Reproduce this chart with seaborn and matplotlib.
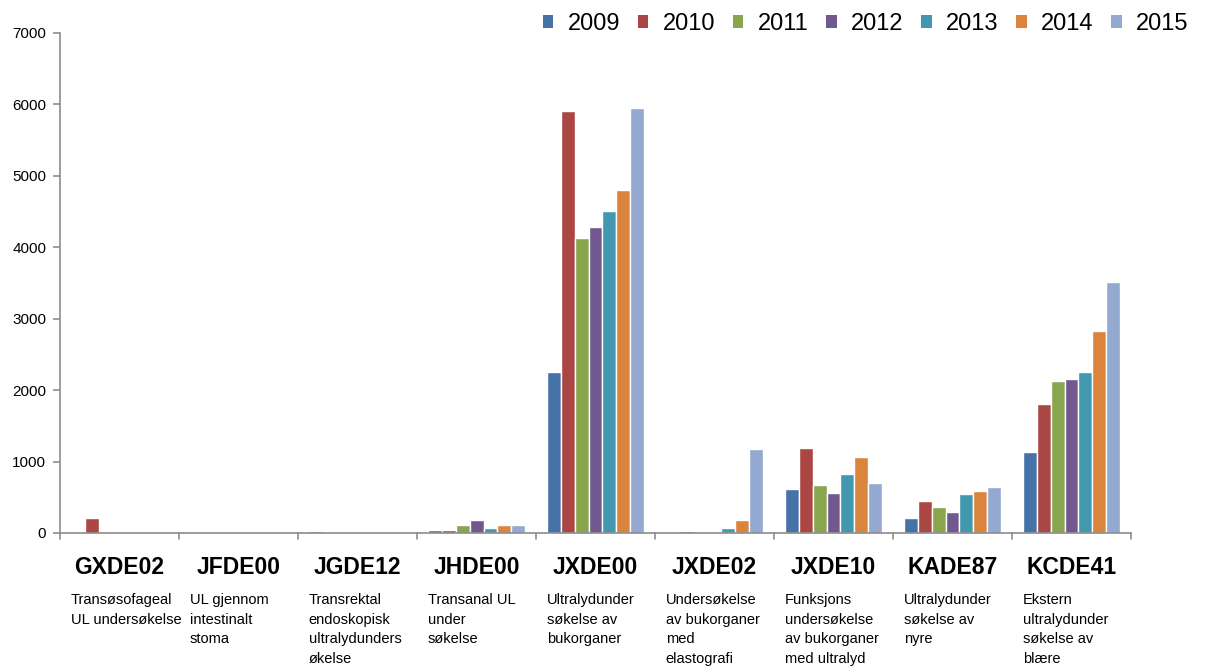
import numpy as np
import pandas as pd
import seaborn as sns
import matplotlib
matplotlib.use("Agg")
from matplotlib import pyplot as plt
from matplotlib import transforms
from matplotlib.patches import Patch

# Procedure codes and descriptions
codes = ["GXDE02", "JFDE00", "JGDE12", "JHDE00", "JXDE00", "JXDE02", "JXDE10", "KADE87", "KCDE41"]
descriptions = [
    "Transøsofageal\nUL undersøkelse",
    "UL gjennom\nintestinalt\nstoma",
    "Transrektal\nendoskopisk\nultralydunders\nøkelse",
    "Transanal UL\nunder\nsøkelse",
    "Ultralydunder\nsøkelse av\nbukorganer",
    "Undersøkelse\nav bukorganer\nmed\nelastografi",
    "Funksjons\nundersøkelse\nav bukorganer\nmed ultralyd",
    "Ultralydunder\nsøkelse av\nnyre",
    "Ekstern\nultralydunder\nsøkelse av\nblære",
]
years = ["2009", "2010", "2011", "2012", "2013", "2014", "2015"]

# counts per year, one list per code
v_gxde02 = [0, 215, 0, 0, 0, 0, 0]
v_jfde00 = [0, 0, 0, 0, 0, 0, 0]
v_jgde12 = [25, 0, 0, 0, 0, 0, 0]
v_jhde00 = [40, 40, 116, 182, 65, 116, 116]
v_jxde00 = [2255, 5910, 4130, 4285, 4510, 4800, 5950]
v_jxde02 = [0, 25, 0, 0, 65, 180, 1170]
v_jxde10 = [612, 1190, 672, 560, 822, 1060, 696]
v_kade87 = [210, 450, 370, 300, 550, 590, 650]
v_kcde41 = [1130, 1810, 2130, 2150, 2260, 2830, 3520]

values = [v_gxde02, v_jfde00, v_jgde12, v_jhde00, v_jxde00, v_jxde02, v_jxde10, v_kade87, v_kcde41]

colors = ["#4572A7", "#AA4643", "#89A54E", "#71588F", "#4198AF", "#DB843D", "#93A9CF"]

rows = []
for code, vals in zip(codes, values):
    for year, v in zip(years, vals):
        rows.append({"code": code, "year": year, "count": v})
df = pd.DataFrame(rows)

sns.set_style("white")
plt.rcParams["font.family"] = ["Liberation Sans", "DejaVu Sans"]
plt.rcParams["text.color"] = "black"
plt.rcParams["ytick.color"] = "#8c8c8c"
plt.rcParams["ytick.labelcolor"] = "black"

fig = plt.figure(figsize=(12.06, 6.68), dpi=100)
ax = fig.add_axes([0.0498, 0.2021, 0.888, 0.7485])

sns.barplot(data=df, x="code", y="count", hue="year", palette=colors,
            width=0.82, saturation=1, ax=ax, legend=False)

ax.set_ylim(0, 7000)
ax.set_xlim(-0.5, len(codes) - 0.5)
ax.set_yticks(range(0, 7001, 1000))
ax.tick_params(axis="y", labelsize=11, left=True, length=5, width=1.2, pad=5)
ax.set_xticks([])
ax.set_xlabel("")
ax.set_ylabel("")
for s in ["top", "right"]:
    ax.spines[s].set_visible(False)
for s in ["left", "bottom"]:
    ax.spines[s].set_color("#8c8c8c")
    ax.spines[s].set_linewidth(1.2)

# category boundary tick marks below axis
for b in np.arange(-0.5, len(codes) + 0.5, 1):
    ax.plot([b, b], [0, -90], color="#8c8c8c", lw=1.2, clip_on=False)

trans = transforms.blended_transform_factory(ax.transData, fig.transFigure)
for i, (code, desc) in enumerate(zip(codes, descriptions)):
    ax.text(i, 0.151, code, transform=trans, ha="center", va="center",
            fontsize=16.5, fontweight="bold")
    ax.text(i - 0.41, 0.112, desc, transform=trans, ha="left", va="top",
            fontsize=10.5, linespacing=1.5)

handles = [Patch(facecolor=c, edgecolor="none") for c in colors]
fig.legend(handles, years, loc="upper right", bbox_to_anchor=(1.003, 1.012), ncol=7,
           frameon=False, fontsize=17, handlelength=0.45, handleheight=0.45,
           handletextpad=0.6, columnspacing=0.75)

fig.savefig("out.png", dpi=100)
